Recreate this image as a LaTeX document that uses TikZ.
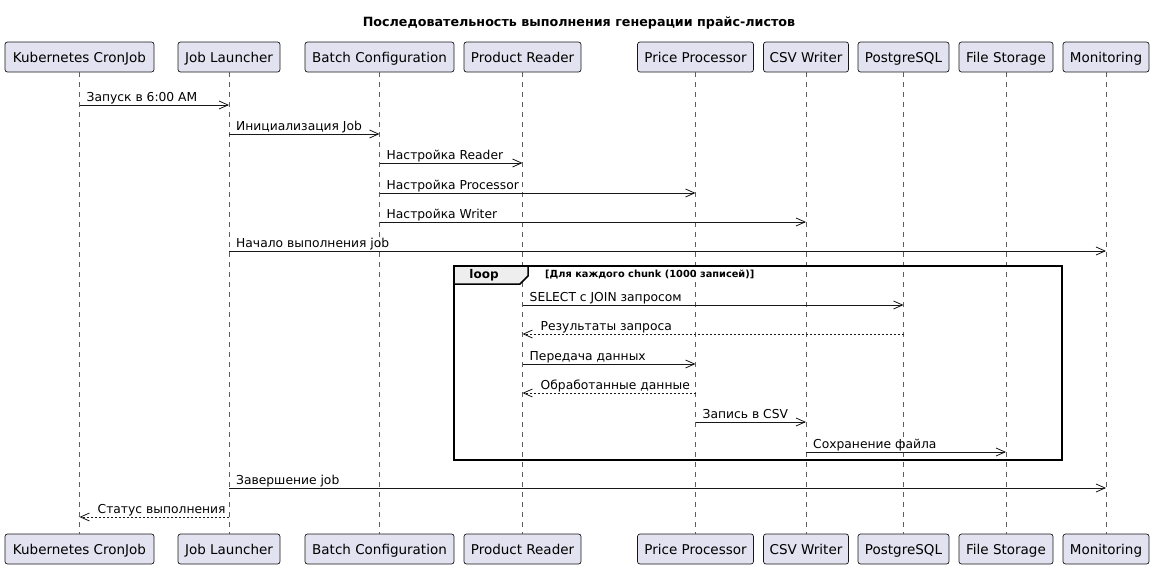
\documentclass[tikz,border=0pt]{standalone}
\usepackage{fontspec}
\setmainfont{DejaVu Sans}
\usetikzlibrary{arrows.meta,calc}
\definecolor{pbox}{HTML}{E2E2F0}
\definecolor{pline}{HTML}{181818}
\definecolor{tabfill}{HTML}{EEEEEE}
\tikzset{
  part/.style={draw=pline, fill=pbox, rounded corners=2.5pt, line width=0.7pt,
    minimum height=30pt, inner sep=0pt, text height=12pt, text depth=0.5pt,
    font=\fontsize{13.5}{16}\selectfont},
  life/.style={draw=pline!70, dash pattern=on 5pt off 5pt, line width=0.6pt},
  msgline/.style={draw=pline, line width=0.8pt, -{Straight Barb[length=9pt,width=8pt]}},
  retline/.style={msgline, dash pattern=on 2pt off 2pt},
  msglabel/.style={anchor=base west, inner sep=0pt, font=\fontsize{12.3}{14}\selectfont},
}
% right-going: #1 from, #2 to, #3 y, #4 label, #5 style, #6 name
\newcommand\msgRight[6]{%
  \draw[#5] (#1 |- 0,#3) -- (#2 |- 0,#3);
  \node[msglabel] (#6) at ($(#1 |- 0,#3)+(7,-3.5)$) {#4};}
\newcommand\msgLeft[6]{%
  \draw[#5] (#1 |- 0,#3) -- (#2 |- 0,#3);
  \node[msglabel] (#6) at ($(#2 |- 0,#3)+(18,-3.5)$) {#4};}
\begin{document}
\begin{tikzpicture}[x=1pt,y=-1pt]
\useasboundingbox (0,0) rectangle (1156,570);
\node[font=\bfseries\fontsize{12.7}{15}\selectfont, anchor=base] (title) at (579,27) {Последовательность выполнения генерации прайс-листов};
% participants
\foreach \n/\cx/\w/\t in {k/79.5/149/Kubernetes CronJob, jl/229/102/Job Launcher,
  bc/379.5/149/Batch Configuration, pr/522.5/117/Product Reader, pp/695.5/116/Price Processor,
  csv/806/85/CSV Writer, pg/903.5/91/PostgreSQL, fs/1006/94/File Storage, mon/1106/86/Monitoring}{
  \node[part, minimum width=\w pt] (\n) at (\cx,57) {\t};
  \node[part, minimum width=\w pt] (\n2) at (\cx,549) {\t};
  \draw[life] (\n.south) -- (\n2.north);
}
% loop frame
\draw[line width=1.5pt, draw=black] (454,266) rectangle (1062,460);
\draw[line width=1.5pt, draw=black, fill=tabfill] (454,266) -- (528,266) -- (528,276) -- (520,284) -- (454,284) -- cycle;
\node[font=\bfseries\fontsize{12}{14}\selectfont, inner sep=0pt] (looplbl) at (484,275) {loop};
\node[font=\bfseries\fontsize{9.8}{11}\selectfont, anchor=west, inner sep=0pt] (loopcond) at (545,275) {[Для каждого chunk (1000 записей)]};
% messages
\msgRight{k}{jl}{105}{Запуск в 6:00 AM}{msgline}{m1}
\msgRight{jl}{bc}{134}{Инициализация Job}{msgline}{m2}
\msgRight{bc}{pr}{163}{Настройка Reader}{msgline}{m3}
\msgRight{bc}{pp}{193}{Настройка Processor}{msgline}{m4}
\msgRight{bc}{csv}{222}{Настройка Writer}{msgline}{m5}
\msgRight{jl}{mon}{251}{Начало выполнения job}{msgline}{m6}
\msgRight{pr}{pg}{305}{SELECT с JOIN запросом}{msgline}{m7}
\msgLeft{pg}{pr}{334}{Результаты запроса}{retline}{m8}
\msgRight{pr}{pp}{364}{Передача данных}{msgline}{m9}
\msgLeft{pp}{pr}{393}{Обработанные данные}{retline}{m10}
\msgRight{pp}{csv}{422}{Запись в CSV}{msgline}{m11}
\msgRight{csv}{fs}{452}{Сохранение файла}{msgline}{m12}
\msgRight{jl}{mon}{488}{Завершение job}{msgline}{m13}
\msgLeft{jl}{k}{517}{Статус выполнения}{retline}{m14}
\end{tikzpicture}
\end{document}
